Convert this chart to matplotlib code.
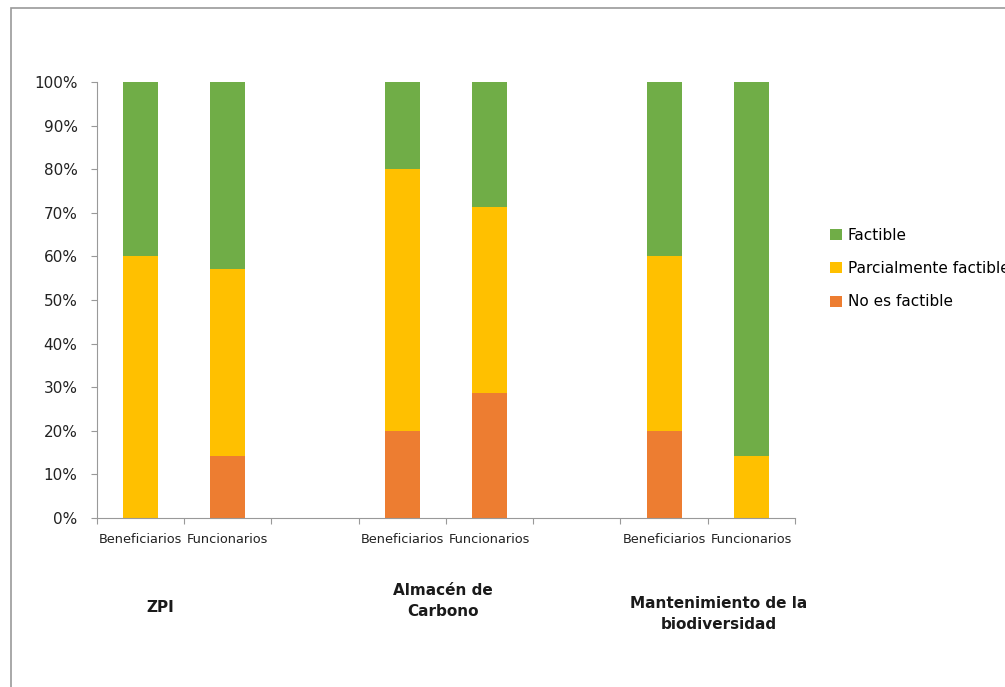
import matplotlib
matplotlib.use('Agg')
import matplotlib.pyplot as plt
from matplotlib.patches import Rectangle
import numpy as np

# slots: 2 bars per group, one empty slot between groups
cat_labels = ['Beneficiarios', 'Funcionarios', '',
              'Beneficiarios', 'Funcionarios', '',
              'Beneficiarios', 'Funcionarios']
groups = ['ZPI', 'Almacén de\nCarbono', 'Mantenimiento de la\nbiodiversidad']

no_factible = [0, 14.3, 0, 20, 28.6, 0, 20, 0]
parcial = [60, 42.8, 0, 60, 42.8, 0, 40, 14.3]
factible = [40, 42.9, 0, 20, 28.6, 0, 40, 85.7]

c_green = '#70AD47'
c_yellow = '#FFC000'
c_orange = '#ED7D31'

fig = plt.figure(figsize=(10.05, 6.87), dpi=100)
ax = fig.add_axes([0.0965, 0.246, 0.6945, 0.6345])

x = np.arange(len(cat_labels))
no_f = np.array(no_factible)
par = np.array(parcial)
fac = np.array(factible)
w = 0.4
b1 = ax.bar(x, no_f, w, color=c_orange, label='No es factible')
b2 = ax.bar(x, par, w, bottom=no_f, color=c_yellow, label='Parcialmente factible')
b3 = ax.bar(x, fac, w, bottom=no_f + par, color=c_green, label='Factible')

ax.set_xlim(-0.5, len(cat_labels) - 0.5)
ax.set_ylim(0, 100)
ax.set_yticks(np.arange(0, 101, 10))
ax.set_yticklabels(['{}%'.format(v) for v in range(0, 101, 10)], fontsize=11, color='#222222')

ax.set_xticks(np.arange(-0.5, len(cat_labels), 1.0))
ax.set_xticklabels([])
ax.set_xticks(x, minor=True)
ax.set_xticklabels(cat_labels, minor=True, fontsize=9.3, color='#222222')
ax.tick_params(axis='x', which='minor', length=0, pad=11)
ax.tick_params(axis='x', which='major', length=4, color='#999999')
ax.tick_params(axis='y', length=4, color='#999999', pad=10)

for s in ['top', 'right']:
    ax.spines[s].set_visible(False)
for s in ['left', 'bottom']:
    ax.spines[s].set_color('#999999')

# group titles
group_pos = [(0.159, 0.116), (0.441, 0.125), (0.715, 0.106)]
for g, (gx, gy) in zip(groups, group_pos):
    fig.text(gx, gy, g, ha='center', va='center', fontsize=11,
             fontweight='bold', color='#1a1a1a', linespacing=1.55)

fig.legend(handles=[b3, b2, b1], loc='center left', bbox_to_anchor=(0.826, 0.609),
           frameon=False, fontsize=11, handlelength=0.75, handleheight=0.75,
           labelspacing=1.2, handletextpad=0.4, borderpad=0, borderaxespad=0)

# outer chart border (runs off the image on the right and bottom)
fig.patches.append(Rectangle((0.011, -0.1), 1.5, 1.1 - 8 / 687, transform=fig.transFigure,
                             fill=False, edgecolor='#999999', lw=1.2))

fig.savefig('out.png', dpi=100)
